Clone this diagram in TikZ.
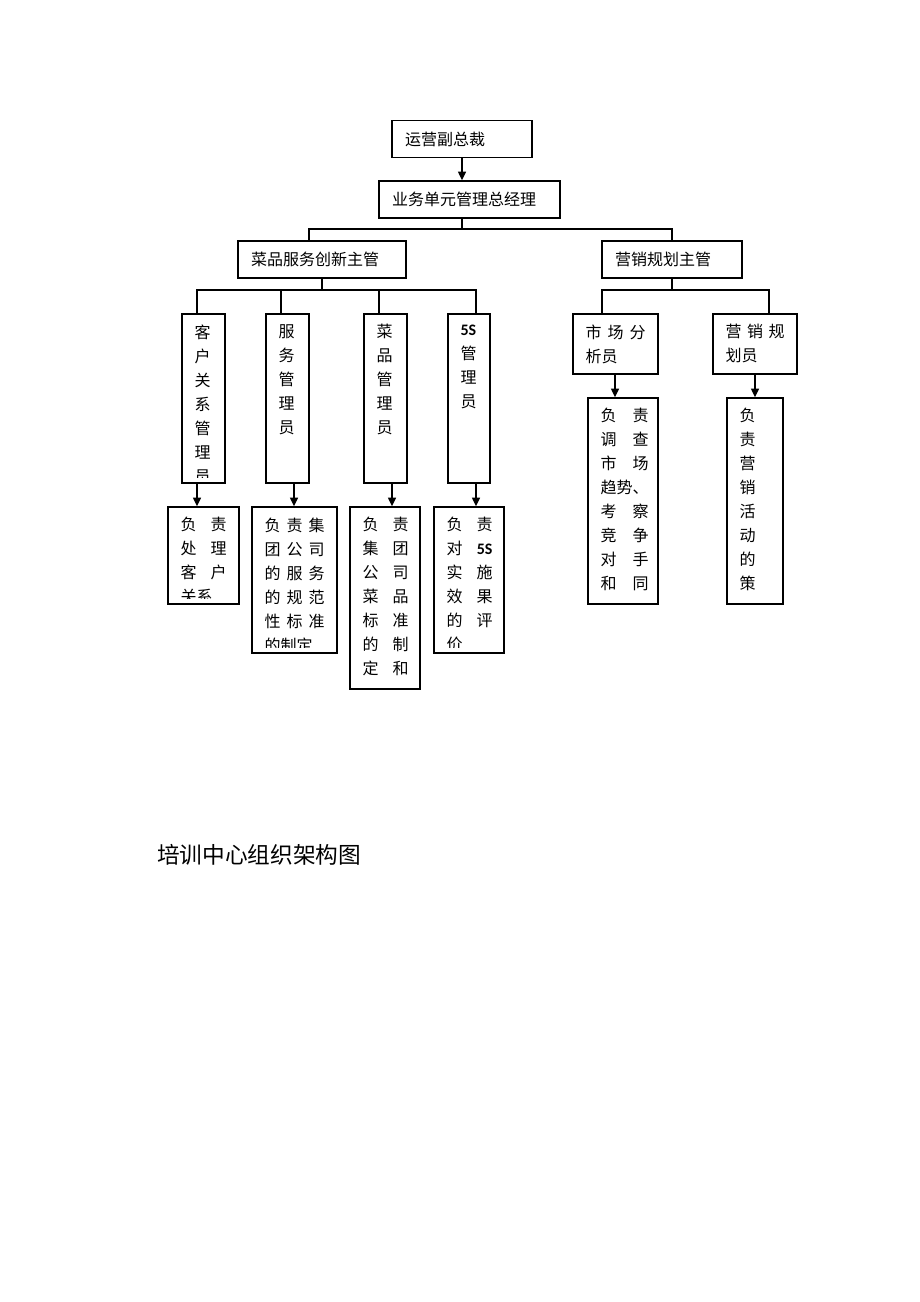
\documentclass[tikz,border=0pt]{standalone}
\usepackage{fontspec}
\usepackage{tikz}
\usetikzlibrary{arrows.meta}
\newfontfamily\cjk{Noto Sans CJK SC}
\newfontfamily\lat{Carlito}
\newdimen\px \px=0.75pt
% text of a box, cut off at the box's lower margin
\newcommand\boxtext[3]{%
  \begin{scope}
  \clip (#1.north west) rectangle ([yshift=6\px]#1.south east);
  \node[anchor=north west, inner sep=0pt, text width=#2\px, align=left]
    (#1-text) at ([xshift=13\px, yshift=-11\px]#1.north west) {#3};
  \end{scope}}

\begin{document}
\begin{tikzpicture}
[x=0.75pt, y=-0.75pt,
every node/.style={font=\cjk\fontsize{12}{18}\selectfont},
box/.style={draw, line width=1.1pt, inner sep=0pt},
head/.style={box, minimum height=37\px, inner xsep=13\px, align=left},
line/.style={line width=1pt},
arr/.style={line width=1pt, -{Triangle[length=6.5pt, width=6pt]}}]

\useasboundingbox (0,0) rectangle (920,1302);

% top
\node[head, minimum width=140\px, text width=114\px] (vp) at (462,139) {运营副总裁};
\node[head, minimum width=181\px, text width=155\px] (gm) at (469.5,199.5) {业务单元管理总经理};
\node[head, minimum width=168\px, text width=142\px] (cp) at (322,259.5) {菜品服务创新主管};
\node[head, minimum width=140\px, text width=114\px] (mp) at (672,259.5) {营销规划主管};

\draw[arr] (vp.south) -- (vp.south |- gm.north);
\draw[line] (vp.south |- gm.south) -- (462,229);
\draw[line] (309,0 |- cp.north) |- (mp.north |- 0,229) -- (mp.north);

% left
\begin{scope}
\node[box, minimum width=43\px, minimum height=169\px] (r1) at (203.5,398.5) {};
\node[box, minimum width=43\px, minimum height=169\px] (r2) at (287.5,398.5) {};
\node[box, minimum width=43\px, minimum height=169\px] (r3) at (385.5,398.5) {};
\node[box, minimum width=42\px, minimum height=169\px] (r4) at (469,398.5) {};
\boxtext{r1}{16}{客\\户\\关\\系\\管\\理\\员}
\boxtext{r2}{16}{服\\务\\管\\理\\员}
\boxtext{r3}{16}{菜\\品\\管\\理\\员}
\boxtext{r4}{16}{{\lat\bfseries 5S}\\管\\理\\员}

\node[box, minimum width=71\px, minimum height=97\px] (d1) at (203.5,555.5) {};
\node[box, minimum width=85\px, minimum height=146\px] (d2) at (294.5,580) {};
\node[box, minimum width=70\px, minimum height=182\px] (d3) at (385,598) {};
\node[box, minimum width=70\px, minimum height=146\px] (d4) at (469,580) {};
\boxtext{d1}{46}{负\hfill 责\\处\hfill 理\\客\hfill 户\\关系}
\boxtext{d2}{60}{负\hfill 责\hfill 集\\团\hfill 公\hfill 司\\的\hfill 服\hfill 务\\的\hfill 规\hfill 范\\性\hfill 标\hfill 准\\的制定}
\boxtext{d3}{46}{负\hfill 责\\集\hfill 团\\公\hfill 司\\菜\hfill 品\\标\hfill 准\\的\hfill 制\\定\hfill 和}
\boxtext{d4}{46}{负\hfill 责\\对\hfill {\lat\bfseries 5S}\\实\hfill 施\\效\hfill 果\\的\hfill 评\\价}

\draw[line] (322,0 |- cp.south) -- (322,290);
\draw[line] (197,0 |- r1.north) |- (476,290) -- (476,0 |- r4.north);
\draw[line] (281,290) -- (281,0 |- r2.north);
\draw[line] (379,290) -- (379,0 |- r3.north);

\draw[arr] (197,0 |- r1.south) -- (197,0 |- d1.north);
\draw[arr] (294,0 |- r2.south) -- (294,0 |- d2.north);
\draw[arr] (392,0 |- r3.south) -- (392,0 |- d3.north);
\draw[arr] (476,0 |- r4.south) -- (476,0 |- d4.north);
\end{scope}

% right
\begin{scope}
\node[box, minimum width=85\px, minimum height=60\px] (m1) at (615.5,344) {};
\node[box, minimum width=84\px, minimum height=60\px] (m2) at (755,344) {};
\boxtext{m1}{60}{市\hfill 场\hfill 分\\析员}
\boxtext{m2}{59}{营\hfill 销\hfill 规\\划员}

\node[box, minimum width=70\px, minimum height=206\px] (e1) at (623,501) {};
\node[box, minimum width=56\px, minimum height=206\px] (e2) at (755,501) {};
\boxtext{e1}{48}{负\hfill 责\\调\hfill 查\\市\hfill 场\\趋势、\\考\hfill 察\\竞\hfill 争\\对\hfill 手\\和\hfill 同}
\boxtext{e2}{16}{负\\责\\营\\销\\活\\动\\的\\策}

\draw[line] (mp.south) -- (672,290);
\draw[line] (602,0 |- m1.north) |- (769,290) -- (769,0 |- m2.north);

\draw[arr] (615,0 |- m1.south) -- (615,0 |- e1.north);
\draw[arr] (755,0 |- m2.south) -- (755,0 |- e2.north);
\end{scope}

\node[anchor=west, inner sep=0pt, font=\cjk\fontsize{17}{17}\selectfont] (title) at (157,855) {培训中心组织架构图};
\end{tikzpicture}
\end{document}
